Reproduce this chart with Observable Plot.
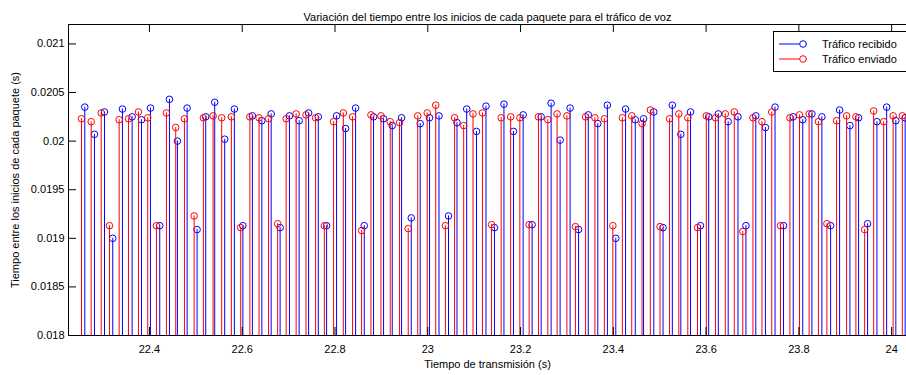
<!DOCTYPE html>
<html>
<head>
<meta charset="utf-8">
<script src="https://cdn.jsdelivr.net/npm/d3@7"></script>
<script src="https://cdn.jsdelivr.net/npm/@observablehq/plot@0.6"></script>
<style>
  html, body { margin: 0; padding: 0; background: #fff; }
  #chart svg { display: block; }
</style>
</head>
<body>
<div id="chart"></div>
<script>
// Sent packets: transmission instant (s) and time since the previous packet start (s)
const sentTime = [
  22.2535, 22.2744, 22.2960, 22.3138, 22.3347, 22.3548, 22.3763, 22.3963, 22.4151, 22.4366,
  22.4567, 22.4754, 22.4963, 22.5163, 22.5372, 22.5557, 22.5766, 22.5967, 22.6165, 22.6363,
  22.6568, 22.6764, 22.6947, 22.7162, 22.7375, 22.7582, 22.7770, 22.7970, 22.8179, 22.8379,
  22.8573, 22.8775, 22.8991, 22.9191, 22.9392, 22.9579, 22.9784, 22.9988, 23.0171, 23.0380,
  23.0578, 23.0774, 23.0975, 23.1179, 23.1375, 23.1582, 23.1787, 23.1985, 23.2185, 23.2386,
  23.2588, 23.2788, 23.2999, 23.3183, 23.3402, 23.3603, 23.3807, 23.3990, 23.4195, 23.4397,
  23.4619, 23.4798, 23.5007, 23.5212, 23.5412, 23.5606, 23.5815, 23.6004, 23.6202, 23.6414,
  23.6607, 23.6791, 23.7010, 23.7204, 23.7415, 23.7603, 23.7807, 23.8014, 23.8221, 23.8421,
  23.8604, 23.8813, 23.9029, 23.9229, 23.9418, 23.9612, 23.9828, 24.0032, 24.0230
];
const sentGap = [
  0.02023, 0.02020, 0.02029, 0.01913, 0.02022, 0.02023, 0.02030, 0.02024, 0.01913, 0.02029,
  0.02014, 0.02023, 0.01923, 0.02024, 0.02026, 0.02024, 0.02025, 0.01911, 0.02025, 0.02024,
  0.02023, 0.01915, 0.02023, 0.02028, 0.02027, 0.02024, 0.01913, 0.02020, 0.02029, 0.02025,
  0.01908, 0.02027, 0.02026, 0.02020, 0.02019, 0.01910, 0.02026, 0.02029, 0.02037, 0.01913,
  0.02024, 0.02016, 0.02028, 0.02029, 0.01914, 0.02024, 0.02025, 0.02024, 0.01914, 0.02025,
  0.02022, 0.02028, 0.02026, 0.01912, 0.02025, 0.02024, 0.02023, 0.01913, 0.02024, 0.02026,
  0.02018, 0.02032, 0.01912, 0.02023, 0.02028, 0.02024, 0.01911, 0.02026, 0.02024, 0.02028,
  0.02030, 0.01907, 0.02024, 0.02020, 0.02030, 0.01913, 0.02024, 0.02027, 0.02028, 0.02020,
  0.01915, 0.02021, 0.02026, 0.02025, 0.01909, 0.02031, 0.02020, 0.02026, 0.02026
];

// Received packets: arrival instant (s) and time since the previous packet start (s)
const recvTime = [
  22.2606, 22.2815, 22.3031, 22.3209, 22.3418, 22.3627, 22.3828, 22.4022, 22.4222, 22.4431,
  22.4603, 22.4812, 22.5027, 22.5213, 22.5407, 22.5622, 22.5831, 22.6014, 22.6219, 22.6423,
  22.6624, 22.6817, 22.7018, 22.7227, 22.7431, 22.7640, 22.7819, 22.8034, 22.8228, 22.8444,
  22.8631, 22.8831, 22.9047, 22.9234, 22.9435, 22.9644, 22.9837, 23.0038, 23.0242, 23.0447,
  23.0630, 23.0839, 23.1050, 23.1255, 23.1438, 23.1642, 23.1847, 23.2056, 23.2250, 23.2444,
  23.2659, 23.2853, 23.3068, 23.3251, 23.3460, 23.3665, 23.3872, 23.4053, 23.4264, 23.4473,
  23.4652, 23.4873, 23.5072, 23.5272, 23.5455, 23.5664, 23.5879, 23.6056, 23.6263, 23.6476,
  23.6687, 23.6859, 23.7071, 23.7279, 23.7486, 23.7669, 23.7878, 23.8083, 23.8281, 23.8496,
  23.8684, 23.8878, 23.9100, 23.9287, 23.9481, 23.9683, 23.9892, 24.0090, 24.0291
];
const recvGap = [
  0.02035, 0.02007, 0.02030, 0.01900, 0.02033, 0.02025, 0.02022, 0.02034, 0.01913, 0.02043,
  0.02000, 0.02034, 0.01909, 0.02025, 0.02040, 0.02002, 0.02033, 0.01913, 0.02026, 0.02021,
  0.02028, 0.01911, 0.02026, 0.02021, 0.02029, 0.02025, 0.01913, 0.02026, 0.02013, 0.02034,
  0.01913, 0.02025, 0.02023, 0.02016, 0.02024, 0.01921, 0.02018, 0.02024, 0.02026, 0.01923,
  0.02019, 0.02033, 0.02010, 0.02036, 0.01911, 0.02038, 0.02010, 0.02027, 0.01914, 0.02025,
  0.02039, 0.02001, 0.02034, 0.01909, 0.02027, 0.02018, 0.02037, 0.01900, 0.02033, 0.02022,
  0.02023, 0.02030, 0.01911, 0.02037, 0.02007, 0.02030, 0.01913, 0.02025, 0.02028, 0.02020,
  0.02025, 0.01913, 0.02026, 0.02014, 0.02035, 0.01913, 0.02025, 0.02022, 0.02028, 0.02025,
  0.01913, 0.02032, 0.02016, 0.02024, 0.01915, 0.02020, 0.02035, 0.02021, 0.02024
];

const xTicks = [22.4, 22.6, 22.8, 23, 23.2, 23.4, 23.6, 23.8, 24];
const yTicks = [0.018, 0.0185, 0.019, 0.0195, 0.02, 0.0205, 0.021];
const xDomain = [22.2255, 24.032];
const yDomain = [0.018, 0.0212];

const seriesNames = ["Tráfico recibido", "Tráfico enviado"];
const seriesColors = ["#0000ff", "#ff0000"];
const titleText = "Variación del tiempo entre los inicios de cada paquete para el tráfico de voz";
const xLabel = "Tiempo de transmisión (s)";
const yLabel = "Tiempo entre los inicios de cada paquete (s)";

const received = recvTime.map((t, i) => ({t, gap: recvGap[i]}));
const sent = sentTime.map((t, i) => ({t, gap: sentGap[i]}));

const W = 906, H = 375;
const mT = 24, mB = 40, mL = 68, mR = 0;
const innerW = W - mL - mR, innerH = H - mT - mB;
const tickLen = 8;
const font = "'Liberation Sans', Arial, Helvetica, sans-serif";

const stems = (data, color) => [
  Plot.ruleX(data, {x: "t", y1: yDomain[0], y2: "gap", stroke: color, strokeWidth: 1}),
  Plot.dot(data, {x: "t", y: "gap", r: 3.3, stroke: color, strokeWidth: 1, fill: "none"})
];

const chart = Plot.plot({
  width: W,
  height: H,
  marginTop: mT,
  marginBottom: mB,
  marginLeft: mL,
  marginRight: mR,
  style: {fontFamily: font, fontSize: "11px", color: "#000", background: "#fff"},
  x: {domain: xDomain},
  y: {domain: yDomain},
  marks: [
    ...stems(received, seriesColors[0]),
    ...stems(sent, seriesColors[1]),
    // inward ticks, bottom/top and left
    Plot.ruleX(xTicks, {x: d => d, insetTop: innerH - tickLen, stroke: "#000"}),
    Plot.ruleX(xTicks, {x: d => d, insetBottom: innerH - tickLen, stroke: "#000"}),
    Plot.ruleY(yTicks, {y: d => d, insetRight: innerW - tickLen, stroke: "#000"}),
    Plot.axisX({ticks: xTicks, tickSize: 0, tickPadding: 10, tickFormat: d => String(d), label: null}),
    Plot.axisY({ticks: yTicks, tickSize: 0, tickPadding: 4, tickFormat: d => String(d), label: null}),
    Plot.frame({stroke: "#000", strokeWidth: 1}),
    Plot.text([titleText], {frameAnchor: "top", dy: -11, fontSize: 11, fill: "#000"}),
    Plot.text([xLabel], {frameAnchor: "bottom", dy: 32, fontSize: 11, fill: "#000"}),
    Plot.text([yLabel], {frameAnchor: "left", textAnchor: "middle", dx: -53, rotate: -90, fontSize: 11, fill: "#000"})
  ]
});

document.getElementById("chart").appendChild(chart);

// Legend box in the upper-right corner of the axes
const svg = d3.select(chart);
const lg = svg.append("g").attr("transform", `translate(773,31)`)
  .attr("font-family", font).attr("font-size", 11).attr("text-anchor", "start");
lg.append("rect").attr("x", 0.5).attr("y", 0.5).attr("width", 140).attr("height", 40)
  .attr("fill", "#fff").attr("stroke", "#000");
seriesNames.forEach((name, i) => {
  const cy = 13 + i * 15;
  lg.append("line").attr("x1", 6).attr("x2", 34).attr("y1", cy).attr("y2", cy)
    .attr("stroke", seriesColors[i]);
  lg.append("circle").attr("cx", 30).attr("cy", cy).attr("r", 3.3)
    .attr("fill", "#fff").attr("stroke", seriesColors[i]);
  lg.append("text").attr("x", 49).attr("y", cy).attr("dy", "0.35em")
    .attr("fill", "#000").text(name);
});
</script>
</body>
</html>
